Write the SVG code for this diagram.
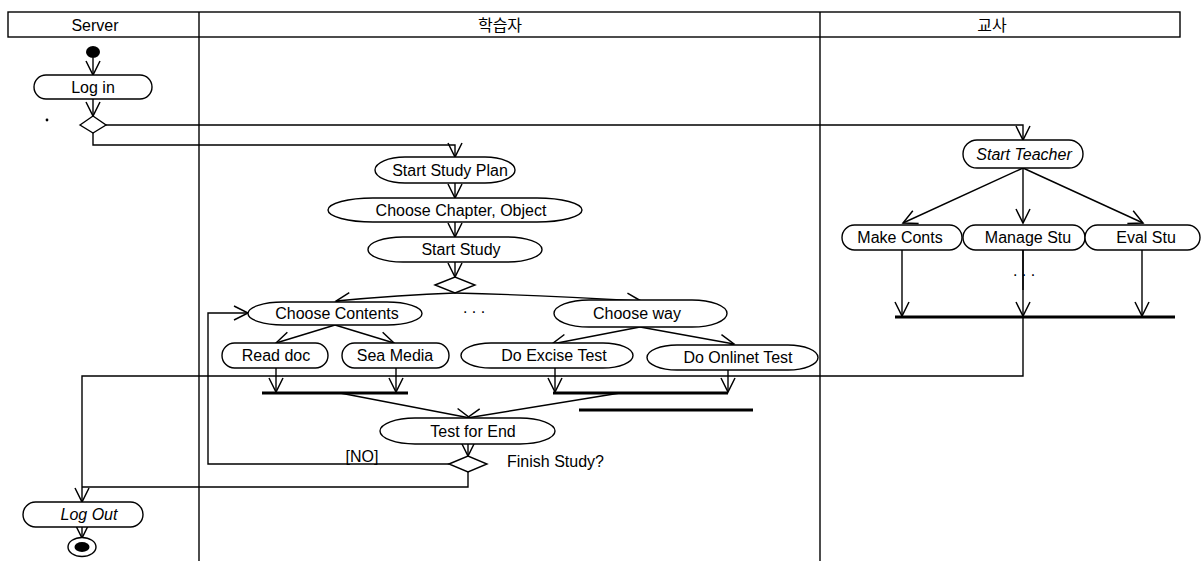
<svg xmlns="http://www.w3.org/2000/svg" width="1204" height="561" viewBox="0 0 1204 561">
<style>
.ln{fill:none;stroke:#000;stroke-width:1.4}
.bar{fill:none;stroke:#000;stroke-width:3}
.nd{fill:#fff;stroke:#000;stroke-width:1.4}
.t{font-family:"Liberation Sans",Arial,"Noto Sans CJK KR",sans-serif;font-size:16px;fill:#000;text-anchor:middle}
.ti{font-style:italic}
.tl{text-anchor:start}
</style>
<defs>
<marker id="ar" markerUnits="userSpaceOnUse" markerWidth="18" markerHeight="18" refX="15" refY="8" orient="auto">
<path d="M1,1 L15,8 L1,15" fill="none" stroke="#000" stroke-width="1.5"/>
</marker>
</defs>
<rect width="1204" height="561" fill="#fff"/>
<g id="lanes">
<rect x="8" y="12" width="1172" height="25" class="ln" stroke-width="1.5"/>
<line x1="199" y1="12" x2="199" y2="561" class="ln"/>
<line x1="820" y1="12" x2="820" y2="561" class="ln"/>
<text x="95" y="31" class="t">Server</text>
<text x="500" y="31" class="t">학습자</text>
<text x="992" y="31" class="t">교사</text>
</g>
<g id="connectors">
<path d="M93,58 V75" class="ln" marker-end="url(#ar)"/>
<path d="M93,99 V116" class="ln" marker-end="url(#ar)"/>
<path d="M106,125 H1023 V140" class="ln" marker-end="url(#ar)"/>
<path d="M93,133 V145 H455 V157" class="ln" marker-end="url(#ar)"/>
<path d="M455,183 V198" class="ln" marker-end="url(#ar)"/>
<path d="M455,222 V237" class="ln" marker-end="url(#ar)"/>
<path d="M455,262 V277" class="ln" marker-end="url(#ar)"/>
<path d="M455,293 Q400,295 336,301" class="ln" marker-end="url(#ar)"/>
<path d="M455,293 Q540,295 641,301" class="ln" marker-end="url(#ar)"/>
<path d="M335,325 L276,343" class="ln" marker-end="url(#ar)"/>
<path d="M335,325 L394,343" class="ln" marker-end="url(#ar)"/>
<path d="M640,327 L552,344" class="ln" marker-end="url(#ar)"/>
<path d="M640,327 L734,344" class="ln" marker-end="url(#ar)"/>
<path d="M276,368 V392" class="ln" marker-end="url(#ar)"/>
<path d="M396,368 V392" class="ln" marker-end="url(#ar)"/>
<path d="M555,368 V392" class="ln" marker-end="url(#ar)"/>
<path d="M728,370 V392" class="ln" marker-end="url(#ar)"/>
<path d="M262,393 H408" class="bar"/>
<path d="M553,393 H728" class="bar"/>
<path d="M579,410 H753" class="bar"/>
<path d="M340,393 L470,418" class="ln" marker-end="url(#ar)"/>
<path d="M620,393 L467,418" class="ln" marker-end="url(#ar)"/>
<path d="M468,444 V456" class="ln" marker-end="url(#ar)"/>
<path d="M449,464 H208 V313 H248" class="ln" marker-end="url(#ar)"/>
<path d="M468,472 V487 H82" class="ln"/>
<path d="M1023,168 L903,223" class="ln" marker-end="url(#ar)"/>
<path d="M1023,168 V223" class="ln" marker-end="url(#ar)"/>
<path d="M1023,168 L1143,223" class="ln" marker-end="url(#ar)"/>
<path d="M902,250 V316" class="ln" marker-end="url(#ar)"/>
<path d="M1023,250 V316" class="ln" marker-end="url(#ar)"/>
<path d="M1023,250 V290" class="ln" stroke-width="2.4"/>
<path d="M1142,250 V316" class="ln" marker-end="url(#ar)"/>
<path d="M895,317 H1175" class="bar"/>
<path d="M1023,317 V376 H82 V502" class="ln" marker-end="url(#ar)"/>
<path d="M82,527 V538" class="ln" marker-end="url(#ar)"/>
<text x="362" y="462" class="t">[NO]</text>
<text x="507" y="467" class="t tl">Finish Study?</text>
</g>
<g id="start"><ellipse cx="93" cy="52" rx="7" ry="6" fill="#000"/></g>
<g id="dot"><circle cx="47" cy="120" r="1.4" fill="#000"/></g>
<g id="login"><rect x="34" y="75" width="118" height="24" rx="12" ry="12" class="nd"/><text x="93" y="93" class="t">Log in</text></g>
<g id="dec1"><path d="M80,125 L93,116 L106,125 L93,133 Z" class="nd"/></g>
<g id="startplan"><rect x="375" y="157" width="140" height="26" rx="30" ry="13" class="nd"/><text x="450" y="175.5" class="t">Start Study Plan</text></g>
<g id="choosechapter"><rect x="328" y="198" width="254" height="24" rx="45" ry="12" class="nd"/><text x="461" y="215.5" class="t">Choose Chapter, Object</text></g>
<g id="startstudy"><rect x="368" y="237" width="174" height="25" rx="35" ry="12.5" class="nd"/><text x="461" y="255" class="t">Start Study</text></g>
<g id="dec2"><path d="M435,285 L455,277 L475,285 L455,293 Z" class="nd"/></g>
<g id="choosecontents"><rect x="248" y="302" width="174" height="23" rx="35" ry="11.5" class="nd"/><text x="337" y="319" class="t">Choose Contents</text></g>
<g id="dots1"><text x="474" y="313" class="t">. . .</text></g>
<g id="chooseway"><rect x="554" y="300" width="173" height="27" rx="35" ry="13.5" class="nd"/><text x="637" y="319" class="t">Choose way</text></g>
<g id="readdoc"><rect x="222" y="343" width="106" height="25" rx="12.5" ry="12.5" class="nd"/><text x="276" y="361" class="t">Read doc</text></g>
<g id="seamedia"><rect x="342" y="343" width="107" height="25" rx="12.5" ry="12.5" class="nd"/><text x="395" y="361" class="t">Sea Media</text></g>
<g id="doexcise"><rect x="461" y="343" width="172" height="25" rx="30" ry="12.5" class="nd"/><text x="554" y="361" class="t">Do Excise Test</text></g>
<g id="doonline"><rect x="647" y="345" width="171" height="25" rx="30" ry="12.5" class="nd"/><text x="738" y="363" class="t">Do Onlinet Test</text></g>
<g id="testend"><rect x="380" y="418" width="175" height="26" rx="35" ry="13" class="nd"/><text x="473" y="436.5" class="t">Test for End</text></g>
<g id="dec3"><path d="M449,464 L468,456 L487,464 L468,472 Z" class="nd"/></g>
<g id="logout"><rect x="23" y="502" width="120" height="25" rx="12.5" ry="12.5" class="nd"/><text x="89" y="520" class="t ti">Log  Out</text></g>
<g id="end"><ellipse cx="82" cy="547" rx="14" ry="9.5" class="nd"/><ellipse cx="82" cy="547" rx="7.5" ry="5" fill="#000"/></g>
<g id="startteacher"><rect x="963" y="140" width="120" height="28" rx="14" ry="14" class="nd"/><text x="1024" y="159.5" class="t ti">Start Teacher</text></g>
<g id="makeconts"><rect x="842" y="225" width="120" height="25" rx="12.5" ry="12.5" class="nd"/><text x="900" y="243" class="t">Make Conts</text></g>
<g id="managestu"><rect x="963" y="225" width="122" height="25" rx="12.5" ry="12.5" class="nd"/><text x="1028" y="243" class="t">Manage Stu</text></g>
<g id="evalstu"><rect x="1085" y="225" width="115" height="25" rx="12.5" ry="12.5" class="nd"/><text x="1146" y="243" class="t">Eval Stu</text></g>
<g id="dots2"><text x="1024" y="276" class="t">. . .</text></g>
</svg>
